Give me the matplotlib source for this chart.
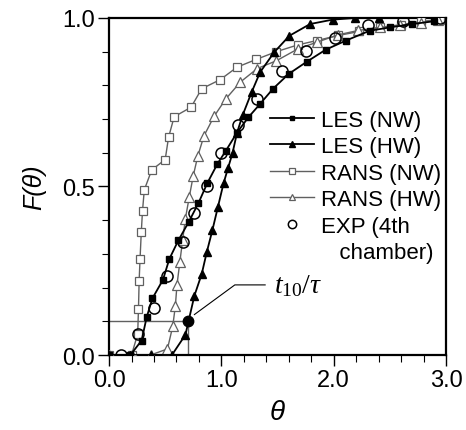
import matplotlib
matplotlib.use("Agg")
import matplotlib.pyplot as plt
from matplotlib.lines import Line2D

plt.rcParams['font.family'] = ['Liberation Sans', 'DejaVu Sans']
plt.rcParams['mathtext.fontset'] = 'custom'
plt.rcParams['mathtext.it'] = 'Liberation Serif:italic'
plt.rcParams['mathtext.rm'] = 'Liberation Serif'

# LES, no-wall model (filled squares)
les_nw_x = [0.0, 0.19, 0.29, 0.335, 0.386, 0.48, 0.537, 0.617, 0.71, 0.795, 0.875,
            0.965, 1.04, 1.14, 1.24, 1.345, 1.46, 1.60, 1.76, 1.93, 2.11, 2.32,
            2.50, 2.70, 2.89]
les_nw_y = [0.0, 0.0, 0.043, 0.112, 0.168, 0.223, 0.285, 0.34, 0.395, 0.45, 0.51,
            0.567, 0.606, 0.66, 0.705, 0.745, 0.79, 0.834, 0.87, 0.906, 0.933, 0.962,
            0.972, 0.982, 0.99]

# LES, with-wall model (filled triangles)
les_hw_x = [0.0, 0.19, 0.37, 0.56, 0.68, 0.76, 0.825, 0.87, 0.92, 0.97, 1.02, 1.06,
            1.10, 1.14, 1.19, 1.27, 1.345, 1.47, 1.605, 1.79, 1.99, 2.19, 2.40]
les_hw_y = [0.0, 0.0, 0.0, 0.0, 0.06, 0.176, 0.24, 0.305, 0.37, 0.44, 0.51, 0.555,
            0.60, 0.66, 0.712, 0.78, 0.839, 0.898, 0.947, 0.982, 0.995, 1.0, 1.0]

# RANS, no-wall model (open squares)
rans_nw_x = [0.0, 0.2, 0.255, 0.262, 0.268, 0.276, 0.287, 0.298, 0.314, 0.38, 0.50,
             0.53, 0.58, 0.73, 0.825, 0.99, 1.14, 1.31, 1.49, 1.68, 1.85, 2.04,
             2.23, 2.41, 2.60, 2.78, 2.95]
rans_nw_y = [0.0, 0.0, 0.062, 0.136, 0.22, 0.285, 0.364, 0.428, 0.49, 0.549, 0.58,
             0.646, 0.707, 0.735, 0.79, 0.817, 0.854, 0.877, 0.90, 0.92, 0.933,
             0.948, 0.96, 0.972, 0.98, 0.99, 0.995]

# RANS, with-wall model (open triangles)
rans_hw_x = [0.0, 0.2, 0.37, 0.52, 0.567, 0.59, 0.605, 0.63, 0.655, 0.68, 0.715, 0.75,
             0.79, 0.845, 0.935, 1.04, 1.17, 1.32, 1.49, 1.68, 1.85, 2.04, 2.22,
             2.41, 2.59, 2.78, 2.93]
rans_hw_y = [0.0, 0.0, 0.0, 0.018, 0.085, 0.144, 0.208, 0.275, 0.34, 0.405, 0.47,
             0.532, 0.59, 0.65, 0.708, 0.76, 0.81, 0.85, 0.873, 0.908, 0.928, 0.95,
             0.963, 0.972, 0.978, 0.986, 0.995]

# Experiment, 4th chamber (open circles)
exp_x = [0.107, 0.26, 0.40, 0.52, 0.656, 0.757, 0.87, 1.0, 1.15, 1.315, 1.54,
         1.755, 2.01, 2.31, 2.62, 2.95]
exp_y = [0.0, 0.062, 0.138, 0.233, 0.334, 0.42, 0.502, 0.60, 0.683, 0.76, 0.844,
         0.903, 0.942, 0.978, 0.99, 1.0]

# t10 / tau reading
t10 = 0.70
f10 = 0.10

x_ticks = [0.0, 1.0, 2.0, 3.0]
x_tick_labels = ['0.0', '1.0', '2.0', '3.0']
y_ticks = [0.0, 0.5, 1.0]
y_tick_labels = ['0.0', '0.5', '1.0']

gray = '#606060'

fig = plt.figure(figsize=(4.66, 4.31), dpi=100)
ax = fig.add_axes([0.234, 0.174, 0.723, 0.782])

ax.plot(rans_nw_x, rans_nw_y, color=gray, lw=1.0, marker='s', ms=5.5,
        mfc='white', mec=gray, mew=0.9, zorder=3, label='RANS (NW)')
ax.plot(rans_hw_x, rans_hw_y, color=gray, lw=1.0, marker='^', ms=6.5,
        mfc='white', mec=gray, mew=0.9, zorder=3, label='RANS (HW)')
ax.plot(les_nw_x, les_nw_y, color='black', lw=1.3, marker='s', ms=4.5,
        mfc='black', mec='black', zorder=4, label='LES (NW)')
ax.plot(les_hw_x, les_hw_y, color='black', lw=1.3, marker='^', ms=5.5,
        mfc='black', mec='black', zorder=4, label='LES (HW)')
ax.plot(exp_x, exp_y, ls='none', marker='o', ms=8, mfc='none', mec='black',
        mew=1.1, zorder=5, label='EXP (4th')

# t10 marker with guide lines
ax.plot([0, t10], [f10, f10], color=gray, lw=1.0, zorder=2)
ax.plot([t10, t10], [0, f10], color=gray, lw=1.0, zorder=2)
ax.plot([t10], [f10], marker='o', ms=7.5, color='black', zorder=6)
ax.plot([0.76, 1.12, 1.39], [0.12, 0.208, 0.208], color='black', lw=0.8, zorder=6)
ax.text(1.47, 0.208, r'$t_{\mathit{10}}/\tau$', fontsize=20, va='center', ha='left')

ax.set_xlim(0, 3.0)
ax.set_ylim(0, 1.0)
ax.set_xticks(x_ticks)
ax.set_xticklabels(x_tick_labels)
ax.set_yticks(y_ticks)
ax.set_yticklabels(y_tick_labels)
ax.set_xticks([i * 0.2 for i in range(16)], minor=True)
ax.set_yticks([i * 0.1 for i in range(11)], minor=True)
ax.tick_params(which='major', direction='out', length=8, width=1.0, labelsize=17,
               pad=2)
ax.tick_params(which='minor', direction='out', length=5, width=0.8)
for s in ax.spines.values():
    s.set_linewidth(1.6)

ax.set_xlabel('θ', fontsize=20, fontstyle='italic', labelpad=6)
ax.set_ylabel('F(θ)', fontsize=18, fontstyle='italic', labelpad=12)

handles, labels = ax.get_legend_handles_labels()
order = [2, 3, 0, 1, 4]
handles = [handles[i] for i in order] + [Line2D([], [], ls='none')]
labels = [labels[i] for i in order] + ['   chamber)']
ax.legend(handles, labels, loc='center right', bbox_to_anchor=(1.012, 0.50),
          frameon=False, fontsize=16, handlelength=2.0, handletextpad=0.3,
          labelspacing=0.25, borderaxespad=0.0, markerscale=0.75)

fig.savefig('out.png', dpi=100)
